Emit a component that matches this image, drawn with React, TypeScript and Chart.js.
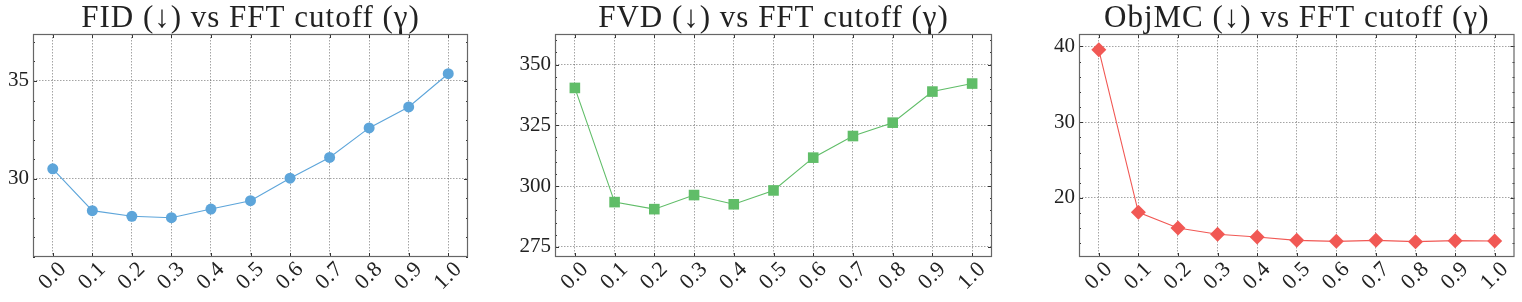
import React, { useEffect, useRef } from "react";
import { Chart, registerables } from "chart.js";
Chart.register(...registerables);

const gammas = [0.0, 0.1, 0.2, 0.3, 0.4, 0.5, 0.6, 0.7, 0.8, 0.9, 1.0];
const gammaLabels = ["0.0", "0.1", "0.2", "0.3", "0.4", "0.5", "0.6", "0.7", "0.8", "0.9", "1.0"];
const fidValues = [30.51, 28.37, 28.08, 28.01, 28.45, 28.88, 30.03, 31.09, 32.6, 33.67, 35.37];
const fvdValues = [340.4, 293.4, 290.5, 296.3, 292.5, 298.2, 311.7, 320.6, 326.1, 338.9, 342.2];
const objmcValues = [39.56, 18.1, 16.04, 15.2, 14.85, 14.4, 14.27, 14.4, 14.23, 14.36, 14.32];
const fidTicks = [30, 35];
const fvdTicks = [275, 300, 325, 350];
const objmcTicks = [20, 30, 40];
const titles = [
  "FID (\u2193) vs FFT cutoff (\u03B3)",
  "FVD (\u2193) vs FFT cutoff (\u03B3)",
  "ObjMC (\u2193) vs FFT cutoff (\u03B3)",
];

const FONT = "'Liberation Serif', 'DejaVu Serif', serif";
const H = 302;
const TOP = 34;
const XAXIS_H = 45;

type Panel = {
  left: number;
  width: number;
  axisWidth: number;
  padRight: number;
  yMin: number;
  yMax: number;
  minorStep: number;
  color: string;
  pointStyle: string;
  radius: number;
  values: number[];
  ticks: number[];
  title: string;
};

const panels: Panel[] = [
  { left: 0, width: 500, axisWidth: 33, padRight: 32, yMin: 26.0, yMax: 37.4, minorStep: 1, color: "#5DA5DA", pointStyle: "circle", radius: 5.5, values: fidValues, ticks: fidTicks, title: titles[0] },
  { left: 500, width: 510, axisWidth: 55, padRight: 18, yMin: 270.8, yMax: 362.6, minorStep: 5, color: "#60BD68", pointStyle: "rect", radius: 7.5, values: fvdValues, ticks: fvdTicks, title: titles[1] },
  { left: 1010, width: 512, axisWidth: 69, padRight: 7, yMin: 12.2, yMax: 41.65, minorStep: 2, color: "#F15854", pointStyle: "rectRot", radius: 7.5, values: objmcValues, ticks: objmcTicks, title: titles[2] },
];

function makePlugin(p: Panel) {
  return {
    id: "decor",
    afterDatasetsDraw(chart: any) {
      const { ctx, chartArea: a, scales } = chart;
      const x = scales.x;
      const y = scales.y;
      ctx.save();
      ctx.strokeStyle = "#333";
      ctx.lineWidth = 1;
      const line = (x1: number, y1: number, x2: number, y2: number) => {
        ctx.beginPath();
        ctx.moveTo(x1, y1);
        ctx.lineTo(x2, y2);
        ctx.stroke();
      };
      const majors = p.ticks;
      const n0 = Math.ceil(p.yMin / p.minorStep);
      const n1 = Math.floor(p.yMax / p.minorStep);
      for (let i = n0; i <= n1; i++) {
        const v = i * p.minorStep;
        const isMajor = majors.some((m) => Math.abs(m - v) < 1e-6);
        const py = Math.round(y.getPixelForValue(v)) + 0.5;
        const len = isMajor ? 4 : 2;
        line(a.left, py, a.left + len, py);
        line(a.right - len, py, a.right, py);
      }
      for (const g of gammas) {
        const px = Math.round(x.getPixelForValue(g)) + 0.5;
        line(px, a.bottom, px, a.bottom - 4);
        line(px, a.top, px, a.top + 4);
      }
      ctx.strokeStyle = "#666";
      ctx.lineWidth = 1.2;
      ctx.strokeRect(a.left + 0.5, a.top + 0.5, a.right - a.left - 1, a.bottom - a.top - 1);
      ctx.restore();
    },
    afterDraw(chart: any) {
      const { ctx, chartArea: a, scales } = chart;
      const x = scales.x;
      ctx.save();
      ctx.fillStyle = "#222";
      ctx.font = `31px ${FONT}`;
      (ctx as any).letterSpacing = "1px";
      ctx.textAlign = "center";
      ctx.textBaseline = "alphabetic";
      ctx.fillText(p.title, (a.left + a.right) / 2, 27);
      (ctx as any).letterSpacing = "0.5px";
      ctx.font = `22px ${FONT}`;
      ctx.textBaseline = "middle";
      gammas.forEach((g, i) => {
        const px = x.getPixelForValue(g);
        ctx.save();
        ctx.translate(px, a.bottom + 19);
        ctx.rotate(-Math.PI / 4);
        ctx.fillText(gammaLabels[i], 0, 0);
        ctx.restore();
      });
      ctx.restore();
    },
  };
}

function PanelChart({ p }: { p: Panel }) {
  const ref = useRef<HTMLCanvasElement | null>(null);
  useEffect(() => {
    if (!ref.current) return;
    const chart = new Chart(ref.current, {
      type: "line",
      data: {
        datasets: [
          {
            data: gammas.map((g, i) => ({ x: g, y: p.values[i] })),
            borderColor: p.color,
            backgroundColor: p.color,
            borderWidth: 1.1,
            pointStyle: p.pointStyle as any,
            pointRadius: p.radius,
            pointBorderWidth: 0,
            pointBackgroundColor: p.color,
            fill: false,
            tension: 0,
          },
        ],
      },
      options: {
        animation: false,
        responsive: false,
        devicePixelRatio: 1,
        layout: { padding: { top: TOP, right: p.padRight, left: 0, bottom: 0 } },
        plugins: { legend: { display: false }, title: { display: false }, tooltip: { enabled: false } },
        scales: {
          x: {
            type: "linear",
            min: -0.05,
            max: 1.05,
            afterBuildTicks: (s: any) => {
              s.ticks = gammas.map((g) => ({ value: g }));
            },
            afterFit: (s: any) => {
              s.height = XAXIS_H;
            },
            ticks: { display: false },
            grid: { color: "rgba(0,0,0,0.45)", lineWidth: 0.8, drawTicks: false },
            border: { display: false, dash: [1.5, 1.5] },
          },
          y: {
            type: "linear",
            min: p.yMin,
            max: p.yMax,
            afterBuildTicks: (s: any) => {
              s.ticks = p.ticks.map((v) => ({ value: v }));
            },
            afterFit: (s: any) => {
              s.width = p.axisWidth;
            },
            ticks: { color: "#222", font: { family: FONT, size: 21 }, padding: 4 },
            grid: { color: "rgba(0,0,0,0.45)", lineWidth: 0.8, drawTicks: false },
            border: { display: false, dash: [1.5, 1.5] },
          },
        },
      },
      plugins: [makePlugin(p) as any],
    });
    return () => chart.destroy();
  }, [p]);
  return (
    <canvas
      ref={ref}
      width={p.width}
      height={H}
      style={{ position: "absolute", left: p.left, top: 0, width: p.width, height: H }}
    />
  );
}

export default function App() {
  return (
    <div style={{ position: "absolute", left: 0, top: 0, width: 1522, height: H, background: "#fff" }}>
      {panels.map((p, i) => (
        <PanelChart key={i} p={p} />
      ))}
    </div>
  );
}
